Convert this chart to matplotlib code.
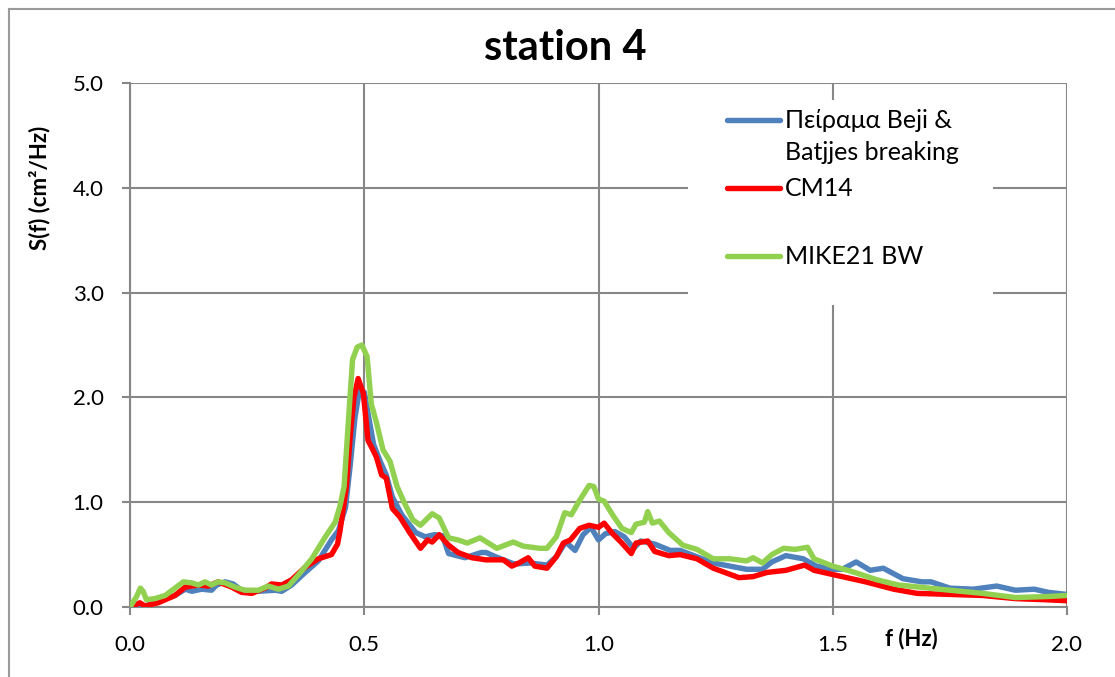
import matplotlib
matplotlib.use("Agg")
import matplotlib.pyplot as plt
from matplotlib.lines import Line2D
from matplotlib.patches import Rectangle

plt.rcParams['font.family'] = ['Lato', 'DejaVu Sans']

# experiment (Beji & Batjjes breaking)
f_exp = [0, 0.025, 0.06, 0.096, 0.118, 0.132, 0.153, 0.174, 0.185, 0.203, 0.22,
         0.238, 0.274, 0.31, 0.324, 0.345, 0.374, 0.402, 0.43, 0.445, 0.46, 0.47,
         0.48, 0.49, 0.50, 0.51, 0.52, 0.535, 0.547, 0.56, 0.58, 0.61, 0.63, 0.65,
         0.667, 0.68, 0.715, 0.75, 0.76, 0.78, 0.82, 0.854, 0.89, 0.91, 0.93, 0.95,
         0.967, 0.984, 1.0, 1.015, 1.035, 1.055, 1.075, 1.09, 1.12, 1.153, 1.174,
         1.245, 1.316, 1.35, 1.37, 1.40, 1.437, 1.465, 1.5, 1.52, 1.55, 1.58, 1.608,
         1.65, 1.69, 1.71, 1.75, 1.8, 1.85, 1.89, 1.93, 1.96, 2.0]
s_exp = [0, 0.0, 0.05, 0.11, 0.17, 0.15, 0.17, 0.16, 0.21, 0.24, 0.22,
         0.16, 0.15, 0.16, 0.15, 0.21, 0.33, 0.44, 0.64, 0.73, 0.95, 1.35,
         1.8, 2.08, 2.05, 1.8, 1.55, 1.38, 1.26, 1.05, 0.88, 0.71, 0.67, 0.69,
         0.68, 0.51, 0.47, 0.52, 0.52, 0.48, 0.41, 0.42, 0.40, 0.48, 0.62, 0.54,
         0.69, 0.76, 0.64, 0.70, 0.72, 0.67, 0.56, 0.63, 0.60, 0.54, 0.54,
         0.42, 0.36, 0.36, 0.43, 0.49, 0.46, 0.39, 0.36, 0.36, 0.43, 0.35, 0.37,
         0.27, 0.24, 0.24, 0.18, 0.17, 0.20, 0.16, 0.17, 0.14, 0.12]

# CM14
f_cm = [0, 0.021, 0.032, 0.06, 0.096, 0.118, 0.146, 0.167, 0.188, 0.217, 0.238,
        0.26, 0.288, 0.302, 0.324, 0.345, 0.374, 0.402, 0.43, 0.443, 0.448, 0.457,
        0.462, 0.47, 0.478, 0.487, 0.498, 0.508, 0.515, 0.526, 0.537, 0.547, 0.56,
        0.576, 0.597, 0.62, 0.635, 0.645, 0.66, 0.68, 0.70, 0.73, 0.76, 0.797,
        0.815, 0.83, 0.85, 0.864, 0.89, 0.91, 0.925, 0.94, 0.96, 0.98, 1.0, 1.012,
        1.03, 1.05, 1.07, 1.08, 1.105, 1.12, 1.15, 1.174, 1.21, 1.245, 1.30, 1.33,
        1.36, 1.40, 1.44, 1.46, 1.50, 1.57, 1.63, 1.68, 1.75, 1.82, 1.89, 1.95, 2.0]
s_cm = [0, 0.04, 0.01, 0.04, 0.11, 0.19, 0.21, 0.20, 0.24, 0.19, 0.14,
        0.13, 0.18, 0.22, 0.21, 0.26, 0.38, 0.46, 0.50, 0.60, 0.72, 0.99,
        1.15, 1.63, 2.0, 2.18, 2.04, 1.59, 1.53, 1.43, 1.26, 1.23, 0.94,
        0.86, 0.71, 0.56, 0.64, 0.62, 0.69, 0.59, 0.52, 0.47, 0.45, 0.45,
        0.39, 0.42, 0.47, 0.39, 0.37, 0.48, 0.61, 0.64, 0.75, 0.78, 0.76, 0.80,
        0.70, 0.61, 0.51, 0.61, 0.63, 0.53, 0.49, 0.50, 0.46, 0.37, 0.28, 0.29,
        0.33, 0.35, 0.40, 0.35, 0.31, 0.24, 0.17, 0.13, 0.12, 0.11, 0.08, 0.07, 0.06]

# MIKE21 BW
f_mk = [0, 0.014, 0.022, 0.028, 0.035, 0.053, 0.075, 0.096, 0.114, 0.132, 0.146,
        0.16, 0.174, 0.188, 0.203, 0.224, 0.245, 0.274, 0.295, 0.317, 0.338, 0.36,
        0.388, 0.417, 0.438, 0.448, 0.457, 0.464, 0.475, 0.485, 0.495, 0.506,
        0.515, 0.526, 0.54, 0.555, 0.57, 0.586, 0.604, 0.62, 0.645, 0.66, 0.68,
        0.70, 0.72, 0.747, 0.783, 0.818, 0.84, 0.875, 0.89, 0.91, 0.928, 0.942,
        0.96, 0.98, 0.99, 1.0, 1.012, 1.03, 1.05, 1.07, 1.08, 1.098, 1.105, 1.115,
        1.13, 1.15, 1.18, 1.21, 1.245, 1.28, 1.316, 1.33, 1.35, 1.37, 1.395, 1.42,
        1.446, 1.46, 1.50, 1.54, 1.594, 1.64, 1.75, 1.82, 1.89, 1.96, 2.0]
s_mk = [0, 0.10, 0.18, 0.15, 0.07, 0.08, 0.11, 0.18, 0.24, 0.23, 0.21,
        0.24, 0.21, 0.24, 0.23, 0.19, 0.16, 0.16, 0.20, 0.17, 0.20, 0.31,
        0.46, 0.67, 0.81, 0.96, 1.15, 1.63, 2.36, 2.48, 2.50, 2.39,
        1.94, 1.76, 1.50, 1.39, 1.15, 0.99, 0.83, 0.78, 0.89, 0.85, 0.66,
        0.64, 0.61, 0.66, 0.56, 0.62, 0.58, 0.56, 0.56, 0.67, 0.90, 0.88,
        1.02, 1.16, 1.15, 1.03, 1.01, 0.88, 0.75, 0.71, 0.79, 0.81, 0.91, 0.80,
        0.82, 0.71, 0.59, 0.55, 0.46, 0.46, 0.44, 0.47, 0.42, 0.50, 0.56, 0.55,
        0.57, 0.46, 0.39, 0.34, 0.26, 0.21, 0.16, 0.13, 0.09, 0.10, 0.11]

labels = ['Πείραμα Beji &\nBatjjes breaking', 'CM14', 'MIKE21 BW']
colors = ['#4F81BD', '#FF0000', '#92D050']
xticks = [0.0, 0.5, 1.0, 1.5, 2.0]
yticks = [0.0, 1.0, 2.0, 3.0, 4.0, 5.0]

W, H = 1115, 677
fig = plt.figure(figsize=(W / 100, H / 100), dpi=100)


def fx(px):
    return px / W


def fy(py):
    return 1 - py / H


ax = fig.add_axes([fx(130), fy(607), fx(1067) - fx(130), fy(83) - fy(607)])
grid_c = '#878787'

for fr, s, c, z in [(f_exp, s_exp, colors[0], 3), (f_cm, s_cm, colors[1], 4),
                    (f_mk, s_mk, colors[2], 5)]:
    ax.plot(fr, s, color=c, lw=3.9, zorder=z, solid_joinstyle='round',
            solid_capstyle='round')

ax.set_xlim(0, 2.0)
ax.set_ylim(0, 5.0)
ax.set_xticks(xticks)
ax.set_yticks(yticks)
ax.set_xticklabels(['%.1f' % v for v in xticks])
ax.set_yticklabels(['%.1f' % v for v in yticks])
ax.grid(True, color=grid_c, lw=1.5)
ax.set_axisbelow(True)
for side in ['top', 'right']:
    ax.spines[side].set_visible(False)
for side in ['left', 'bottom']:
    ax.spines[side].set_color(grid_c)
    ax.spines[side].set_linewidth(1.5)
ax.tick_params(direction='out', length=6, width=1.5, color=grid_c,
               labelsize=16, labelcolor='black')
ax.tick_params(axis='y', pad=13)
ax.tick_params(axis='x', pad=14)

# legend box (white, hides the grid behind it)
fig.add_artist(Rectangle((fx(688), fy(305)), fx(993) - fx(688), fy(100) - fy(305),
                         facecolor='white', edgecolor='none', zorder=2))
leg_y = [120, 188, 256]
for lab, c, yy in zip(labels, colors, leg_y):
    fig.add_artist(Line2D([fx(727), fx(780)], [fy(yy), fy(yy)], color=c, lw=3.9,
                          solid_capstyle='round', zorder=3))
    for i, part in enumerate(lab.split('\n')):
        fig.text(fx(785), fy(yy + 32 * i), part, fontsize=18, va='center',
                 ha='left', zorder=3)

fig.text(fx(565), fy(48), 'station 4', fontsize=30, fontweight='bold',
         ha='center', va='center')
fig.text(fx(40), fy(188), 'S(f) (cm²/Hz)', fontsize=16, fontweight='bold',
         rotation=90, ha='center', va='center')
fig.text(fx(911), fy(639), 'f (Hz)', fontsize=16, fontweight='bold',
         ha='center', va='center')

# chart area border
fig.add_artist(Line2D([fx(9), fx(9)], [fy(9), 0], color='#9a9a9a', lw=1.5))
fig.add_artist(Line2D([fx(9), 1], [fy(9), fy(9)], color='#9a9a9a', lw=1.5))

fig.savefig('out.png', dpi=100)
